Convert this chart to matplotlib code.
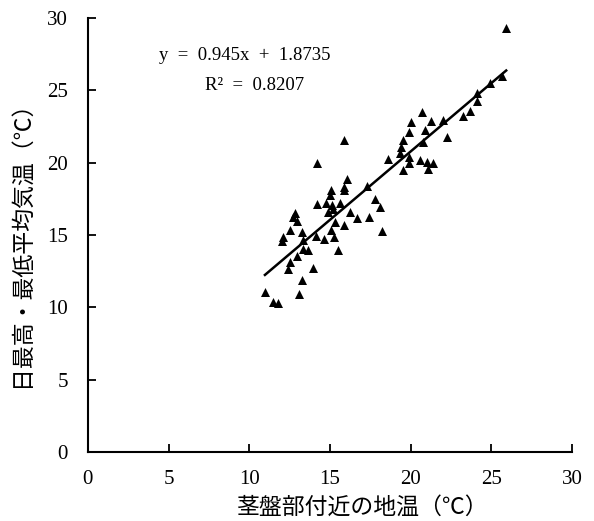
import matplotlib
matplotlib.use('Agg')
import matplotlib.pyplot as plt
import numpy as np

# soil temperature near stem base (x) vs daily max/min mean air temp (y)
soil_temp = [10.97, 11.45, 11.76, 13.1, 13.25, 12.42, 13.93, 12.52, 12.94, 13.35,
             13.66, 15.48, 12.05, 12.11, 13.35, 14.14, 14.63, 15.27, 12.52, 13.25,
             15.06, 18.2, 15.31, 15.89, 12.94, 12.69, 12.83, 16.66, 17.44, 14.9,
             15.2, 16.24, 14.18, 14.75, 15.1, 15.62, 17.8, 18.1, 15.0, 15.05,
             15.85, 15.87, 17.28, 16.04, 14.18, 15.85, 18.62, 19.34, 19.39, 19.5,
             19.5, 19.92, 19.92, 19.92, 20.03, 20.58, 21.0, 21.4, 21.1, 20.79,
             20.89, 20.69, 21.25, 22.03, 22.24, 23.23, 23.7, 24.1, 24.1, 24.92,
             25.65, 25.92]
air_temp = [11.08, 10.39, 10.32, 10.92, 11.89, 12.63, 12.7, 13.15, 13.55, 14.0,
            13.96, 13.96, 14.6, 14.84, 14.65, 14.93, 14.7, 14.84, 15.34, 15.22,
            15.34, 15.27, 15.92, 15.69, 15.98, 16.26, 16.54, 16.15, 16.26, 16.6,
            16.77, 16.6, 17.12, 17.19, 17.07, 17.19, 17.46, 16.95, 17.76, 18.1,
            18.1, 18.35, 18.38, 18.9, 20.0, 21.55, 20.25, 20.68, 21.1, 21.56,
            19.49, 19.95, 20.37, 22.09, 22.83, 20.18, 20.06, 20.0, 19.54, 21.45,
            22.25, 23.52, 22.9, 22.94, 21.79, 23.24, 23.59, 24.28, 24.8, 25.48,
            25.98, 29.33]

slope = 0.945
intercept = 1.8735
r2 = 0.8207

ticks = [0, 5, 10, 15, 20, 25, 30]

jp_font = ['Noto Sans CJK JP', 'DejaVu Sans']
num_font = ['Liberation Serif', 'DejaVu Serif']
sp = '\u2002'  # en space, half-width like the original font

fig = plt.figure(figsize=(5.94, 5.21), dpi=100)
ax = fig.add_axes([0.148, 0.1324, 0.815, 0.8331])

ax.scatter(soil_temp, air_temp, marker='^', s=42, color='black', linewidths=0, zorder=3)

x_fit = np.array([min(soil_temp), max(soil_temp)])
ax.plot(x_fit, slope * x_fit + intercept, color='black', linewidth=1.8, zorder=2)

ax.set_xlim(0, 30)
ax.set_ylim(0, 30)
ax.set_xticks(ticks)
ax.set_yticks(ticks)
ax.set_xticklabels([str(t) for t in ticks], family=num_font, fontsize=15)
ax.set_yticklabels([str(t) for t in ticks], family=num_font, fontsize=15)
ax.tick_params(direction='in', length=6, width=1.3)
ax.tick_params(axis='y', pad=14.5)
ax.tick_params(axis='x', pad=13)

for side in ['top', 'right']:
    ax.spines[side].set_visible(False)
for side in ['left', 'bottom']:
    ax.spines[side].set_linewidth(1.5)

ax.set_xlabel('茎盤部付近の地温（℃）', family=jp_font, fontsize=16.5)
ax.xaxis.set_label_coords(0.566, -0.100)
ax.set_ylabel('日最高・最低平均気温（℃）', family=jp_font, fontsize=16.5)
ax.yaxis.set_label_coords(-0.113, 0.493)

eq_text = sp.join(['y', '=', '%.3fx' % slope, '+', '%.4f' % intercept])
r2_text = sp.join(['R²', '=', '%.4f' % r2])
ax.text(4.4, 27.4, eq_text, family=num_font, fontsize=13.5, va='center')
ax.text(7.25, 25.36, r2_text, family=num_font, fontsize=13.5, va='center')

fig.savefig('out.png', dpi=100)
